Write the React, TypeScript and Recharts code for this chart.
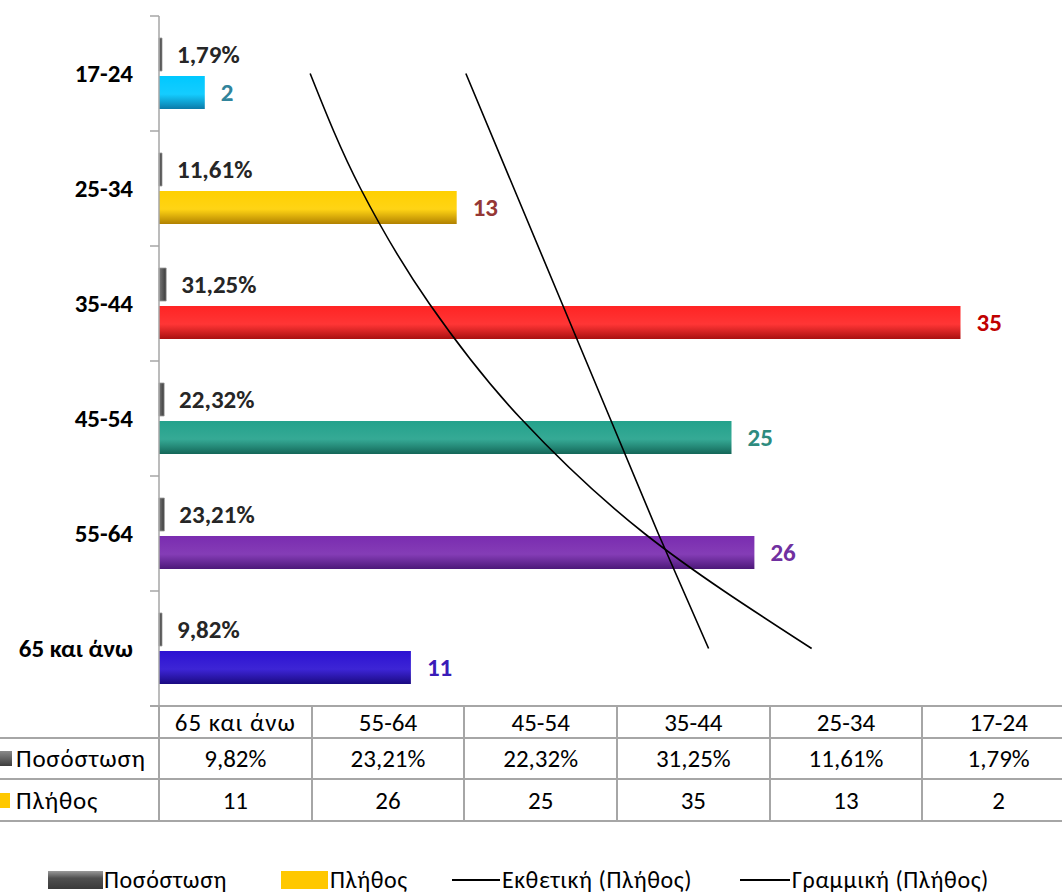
import React from 'react';
import { Bar, Cell, ComposedChart, LabelList, Line, XAxis, YAxis } from 'recharts';

const ageGroups = ['17-24', '25-34', '35-44', '45-54', '55-64', '65 και άνω'];
const pctValues = [1.79, 11.61, 31.25, 22.32, 23.21, 9.82];
const countValues = [2, 13, 35, 25, 26, 11];
// trendlines, one point per age group
const expoTrend = [6.6, 8.8, 11.8, 15.8, 21.2, 28.5];
const linearTrend = [13.4, 15.5, 17.6, 19.7, 21.8, 24.0];

const barTop = ['#00C8FF', '#FFD000', '#FF2424', '#24A28C', '#7A2CB0', '#2C12D2'];
const barBottom = ['#0A7AA8', '#B08000', '#A81010', '#146658', '#4C1878', '#1A0A80'];
const labelColors = ['#31849B', '#953735', '#C00000', '#2E8B7E', '#7030A0', '#3A1CB8'];

const FONT = "Carlito, Calibri, 'Open Sans', sans-serif";
const GRID = '#A6A6A6';

const rows = ageGroups.map((age, i) => ({
  age,
  pct: pctValues[i],
  count: countValues[i],
  expo: expoTrend[i],
  linear: linearTrend[i],
}));

const fmtPct = (v: number) => v.toFixed(2).replace('.', ',') + '%';

const BAND = 115;

function AgeTick(props: any) {
  const { y, payload, index } = props;
  return (
    <g>
      <text x={133} y={y} textAnchor="end" dominantBaseline="central" fontFamily={FONT} fontWeight={700} fontSize={25} fill="#000">
        {payload.value}
      </text>
      <line x1={150} x2={159} y1={y - BAND / 2} y2={y - BAND / 2} stroke={GRID} strokeWidth={1.5} />
      {index === ageGroups.length - 1 && (
        <line x1={150} x2={159} y1={y + BAND / 2} y2={y + BAND / 2} stroke={GRID} strokeWidth={1.5} />
      )}
    </g>
  );
}

function PctLabel(props: any) {
  const { x, y, width, height, index } = props;
  return (
    <text x={x + width + 15} y={y + height / 2} dominantBaseline="central" fontFamily={FONT} fontWeight={700} fontSize={25} fill="#262626">
      {fmtPct(pctValues[index])}
    </text>
  );
}

function CountLabel(props: any) {
  const { x, y, width, height, index } = props;
  return (
    <text x={x + width + 16} y={y + height / 2} dominantBaseline="central" fontFamily={FONT} fontWeight={700} fontSize={25} fill={labelColors[index]}>
      {countValues[index]}
    </text>
  );
}

const COL0 = 159;
const COLW = 152.67;
const tableOrder = [...ageGroups.keys()].reverse();

function DataTable() {
  const cell: React.CSSProperties = {
    position: 'absolute',
    display: 'flex',
    alignItems: 'center',
    justifyContent: 'center',
    fontFamily: FONT,
    fontSize: 25,
    color: '#000',
    boxSizing: 'border-box',
    whiteSpace: 'nowrap',
  };
  const rowsY = [706, 738, 779, 821];
  const hLine = (y: number, x1: number) => (
    <div key={'h' + y} style={{ position: 'absolute', left: x1, top: y - 1, width: 1075 - x1, height: 2, background: GRID }} />
  );
  const vLines = [];
  for (let i = 0; i <= 6; i++) {
    vLines.push(
      <div key={'v' + i} style={{ position: 'absolute', left: COL0 + i * COLW - 1, top: 706, width: 2, height: 116, background: GRID }} />
    );
  }
  return (
    <div style={{ position: 'absolute', left: 0, top: 0 }}>
      {hLine(rowsY[0], 150)}
      {hLine(rowsY[1], 0)}
      {hLine(rowsY[2], 0)}
      {hLine(rowsY[3], 0)}
      {vLines}
      {tableOrder.map((idx, col) => (
        <React.Fragment key={idx}>
          <div style={{ ...cell, left: COL0 + col * COLW, top: 706, width: COLW, height: 32, letterSpacing: idx === 5 ? 1 : 0 }}>{ageGroups[idx]}</div>
          <div style={{ ...cell, left: COL0 + col * COLW, top: 738, width: COLW, height: 41 }}>{fmtPct(pctValues[idx])}</div>
          <div style={{ ...cell, left: COL0 + col * COLW, top: 779, width: COLW, height: 42 }}>{countValues[idx]}</div>
        </React.Fragment>
      ))}
      <div style={{ ...cell, justifyContent: 'flex-start', left: 0, top: 738, width: 159, height: 41, letterSpacing: 0.8 }}>
        <span style={{ display: 'inline-block', width: 12, height: 15, marginRight: 4, background: 'linear-gradient(#8a8a8a, #3c3c3c)' }} />
        Ποσόστωση
      </div>
      <div style={{ ...cell, justifyContent: 'flex-start', left: 0, top: 779, width: 159, height: 42, letterSpacing: 0.8 }}>
        <span style={{ display: 'inline-block', width: 10, height: 15, marginRight: 6, background: '#FFC800' }} />
        Πλήθος
      </div>
    </div>
  );
}

function ChartLegend() {
  const text: React.CSSProperties = {
    position: 'absolute',
    top: 868,
    fontFamily: FONT,
    fontSize: 24,
    color: '#000',
    lineHeight: '24px',
    whiteSpace: 'nowrap',
    letterSpacing: 0.6,
  };
  return (
    <div>
      <div style={{ position: 'absolute', left: 48, top: 871, width: 55, height: 18, background: 'linear-gradient(#9a9a9a, #505050 40%, #3a3a3a)' }} />
      <div style={{ ...text, left: 104 }}>Ποσόστωση</div>
      <div style={{ position: 'absolute', left: 281, top: 871, width: 47, height: 18, background: '#FFC800' }} />
      <div style={{ ...text, left: 330 }}>Πλήθος</div>
      <div style={{ position: 'absolute', left: 452, top: 879, width: 48, height: 2, background: '#000' }} />
      <div style={{ ...text, left: 502 }}>Εκθετική (Πλήθος)</div>
      <div style={{ position: 'absolute', left: 740, top: 879, width: 50, height: 2, background: '#000' }} />
      <div style={{ ...text, left: 792 }}>Γραμμική (Πλήθος)</div>
    </div>
  );
}

export default function App() {
  return (
    <div style={{ position: 'absolute', left: 0, top: 0, width: 1062, height: 893, overflow: 'hidden', background: '#fff' }}>
      <ComposedChart
        width={1075}
        height={707}
        layout="vertical"
        data={rows}
        margin={{ top: 16, right: 0, bottom: 1, left: 0 }}
        barSize={33}
        barGap={5}
      >
        <defs>
          <linearGradient id="grayBar" x1="0" y1="0" x2="1" y2="0">
            <stop offset="0%" stopColor="#7a7a7a" />
            <stop offset="100%" stopColor="#3a3a3a" />
          </linearGradient>
          {ageGroups.map((_, i) => (
            <linearGradient key={i} id={'cnt' + i} x1="0" y1="0" x2="0" y2="1">
              <stop offset="0%" stopColor={barTop[i]} />
              <stop offset="55%" stopColor={barTop[i]} stopOpacity={0.92} />
              <stop offset="100%" stopColor={barBottom[i]} />
            </linearGradient>
          ))}
        </defs>
        <XAxis type="number" domain={[0, 40]} hide />
        <YAxis
          type="category"
          dataKey="age"
          width={159}
          interval={0}
          tickLine={false}
          axisLine={{ stroke: GRID, strokeWidth: 1.5 }}
          tick={<AgeTick />}
        />
        <Bar
          dataKey={(d: any) => d.pct / 100}
          name="Ποσόστωση"
          fill="url(#grayBar)"
          stroke="#9a9a9a"
          strokeWidth={0.8}
          minPointSize={3}
          isAnimationActive={false}
        >
          <LabelList content={<PctLabel />} />
        </Bar>
        <Bar dataKey="count" name="Πλήθος" isAnimationActive={false}>
          {ageGroups.map((_, i) => (
            <Cell key={i} fill={`url(#cnt${i})`} />
          ))}
          <LabelList content={<CountLabel />} />
        </Bar>
        <Line dataKey="expo" name="Εκθετική (Πλήθος)" type="monotone" stroke="#000" strokeWidth={1.6} dot={false} isAnimationActive={false} />
        <Line dataKey="linear" name="Γραμμική (Πλήθος)" type="linear" stroke="#000" strokeWidth={1.6} dot={false} isAnimationActive={false} />
      </ComposedChart>
      <DataTable />
      <ChartLegend />
    </div>
  );
}
